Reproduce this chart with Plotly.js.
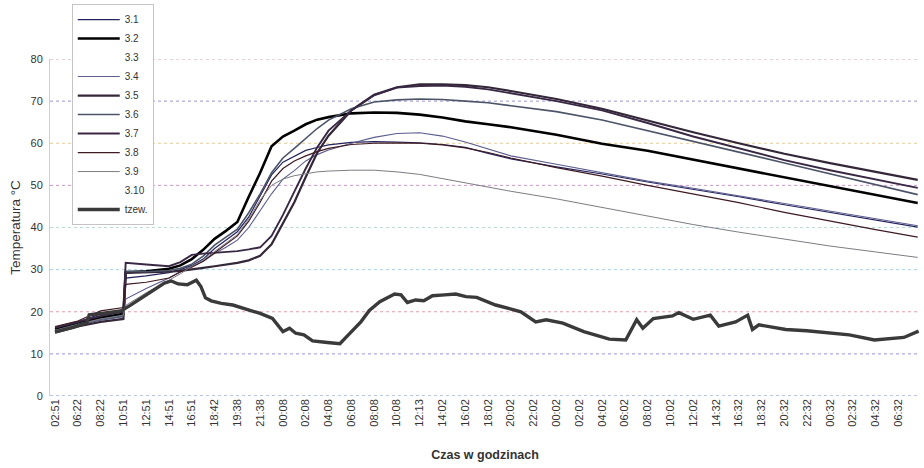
<!DOCTYPE html>
<html>
<head>
<meta charset="utf-8">
<script src="https://cdn.plot.ly/plotly-3.0.1.min.js"></script>
<style>html,body{margin:0;padding:0;background:#fff;}#chart{width:924px;height:468px;}</style>
</head>
<body>
<div id="chart"></div>
<script>
// ---- category tick labels (time of day) ----
const xLabels = ['02:51','06:22','08:22','10:51','12:51','14:51','16:51','18:42','19:38','21:38',
  '00:08','02:08','04:08','06:08','08:08','10:08','12:13','14:02','16:02','18:02','20:02','22:02',
  '00:02','02:02','04:02','06:02','08:02','10:02','12:02','14:32','16:32','18:32','20:32','22:32',
  '00:32','02:32','04:32','06:32'];

// ---- sample positions (in units of tick-label index) for the measurement series ----
const tPos = [0,1,2,3,3.1,4,5,5.5,6,6.5,7,7.5,8,8.5,9,9.5,10,10.5,11,11.5,12,13,14,15,16,17,18,19,20,22,24,26,28,30,32,34,36,37.85];

// ---- series values, °C ----
const s31 = [16.0,17.5,19.5,20.5,28.0,28.5,29.3,30.0,31.0,32.5,35.0,37.0,39.0,42.5,47.5,52.5,55.5,57.0,58.3,59.0,59.6,60.2,60.4,60.3,60.1,59.7,59.0,57.6,56.3,54.4,52.7,50.8,49.1,47.3,45.4,43.6,41.8,40.1];
const s32 = [15.8,17.2,18.6,19.5,29.4,29.6,30.2,31.0,32.5,34.7,37.3,39.2,41.3,47.3,53.0,59.3,61.6,63.0,64.5,65.6,66.2,67.1,67.3,67.2,66.8,66.1,65.2,64.5,63.8,62.0,59.9,58.2,56.1,53.9,51.8,49.7,47.7,45.8];
const s33 = [null];
const s34 = [15.2,16.8,18.0,18.8,23.0,25.5,28.0,29.5,30.8,32.0,33.8,35.3,37.0,40.0,44.0,48.0,51.5,53.5,55.8,57.3,58.4,60.0,61.4,62.3,62.5,61.7,60.3,58.7,57.0,55.0,53.0,51.0,49.3,47.5,45.7,43.8,42.0,40.4];
const s35 = [15.0,16.5,17.6,18.3,29.2,29.3,29.5,29.7,30.0,30.4,30.8,31.2,31.6,32.2,33.3,36.0,41.0,46.0,52.0,57.7,61.8,67.8,71.5,73.3,74.0,74.0,73.8,73.3,72.4,70.5,68.2,65.4,62.6,60.0,57.5,55.3,53.2,51.3];
const s36 = [15.5,17.0,18.2,19.0,29.6,29.5,29.8,30.3,31.3,33.2,35.8,37.8,39.6,43.5,48.0,53.0,56.5,58.8,61.2,63.5,65.5,68.2,69.8,70.3,70.5,70.4,70.0,69.6,68.9,67.5,65.5,63.0,60.5,57.9,55.3,52.7,50.2,47.8];
const s37 = [16.2,17.6,19.0,20.0,31.6,31.2,30.8,31.8,33.5,33.8,34.0,34.2,34.4,34.8,35.3,38.0,43.0,48.5,54.0,59.0,63.0,67.8,71.4,73.2,73.6,73.7,73.4,72.8,71.9,70.0,67.8,64.8,61.6,58.8,56.0,53.6,51.4,49.4];
const s38 = [16.5,17.8,20.2,21.0,26.5,27.0,28.0,29.5,30.6,32.0,34.0,36.0,38.0,41.5,46.0,51.0,54.0,55.8,57.0,58.0,58.8,59.7,60.0,60.1,60.0,59.6,58.9,57.8,56.5,54.2,52.2,50.0,48.0,45.9,43.6,41.5,39.5,37.7];
const s39 = [15.6,16.9,18.3,19.2,21.5,24.5,27.5,29.0,30.8,32.3,34.3,36.3,38.3,42.0,46.5,50.0,51.5,52.3,52.8,53.2,53.4,53.6,53.6,53.2,52.6,51.6,50.6,49.6,48.6,46.8,44.8,42.7,40.7,38.9,37.2,35.6,34.2,32.9];
const s310 = [null];

// outdoor temperature (own, denser sampling)
const tzewPos = [0,0.8,1.4,1.5,2.2,2.9,3.3,3.8,4.3,4.8,5.1,5.4,5.8,6.2,6.4,6.6,6.85,7.3,7.8,8.2,8.7,9.0,9.54,10.0,10.29,10.56,10.92,11.3,11.95,12.5,12.87,13.42,13.79,14.25,14.9,15.18,15.46,15.82,16.18,16.56,17.1,17.58,18.03,18.5,19.33,20.44,21.09,21.55,22.28,23.2,24.32,25.04,25.52,25.79,26.25,27.09,27.37,28.0,28.75,29.12,29.86,30.39,30.6,30.88,32.06,32.98,34.85,35.95,37.24,37.89];
const tzew = [15.2,16.3,17.4,19.3,19.7,20.2,21.5,23.2,25.0,26.8,27.3,26.6,26.4,27.5,26.0,23.3,22.6,22.0,21.6,20.9,20.0,19.6,18.4,15.3,16.1,14.9,14.5,13.1,12.7,12.4,14.5,17.6,20.3,22.4,24.2,24.0,22.2,22.8,22.6,23.8,24.0,24.2,23.6,23.4,21.6,20.0,17.6,18.1,17.3,15.3,13.5,13.3,18.1,16.1,18.4,19.0,19.8,18.2,19.2,16.6,17.6,19.2,15.8,16.9,15.8,15.5,14.5,13.3,13.9,15.4];

const seriesNames = ['3.1','3.2','3.3','3.4','3.5','3.6','3.7','3.8','3.9','3.10'];
const seriesVals = [s31,s32,s33,s34,s35,s36,s37,s38,s39,s310];

const yTicks = [0,10,20,30,40,50,60,70,80];

// ---- styles ----
const lineStyles = [
  {color:'#24245e', width:1.2},
  {color:'#000000', width:2.6},
  {color:'rgba(0,0,0,0)', width:1},
  {color:'#5c5c8e', width:1.1},
  {color:'#342838', width:2.2},
  {color:'#4c5468', width:1.6},
  {color:'#382844', width:1.9},
  {color:'#3e1a22', width:1.2},
  {color:'#7c7c84', width:1.0},
  {color:'rgba(0,0,0,0)', width:1}
];
const gridColors = ['#6f8fd0','#a38fe0','#e0a0a8','#a8d4e6','#b8dcd8','#cc96c4','#e2cc96','#9c94d8','#d8a0b4'];

const traces = seriesNames.map((n,i)=>({
  type:'scatter', mode:'lines', name:n,
  x: seriesVals[i].length === tPos.length ? tPos : [0],
  y: seriesVals[i],
  line: lineStyles[i], connectgaps:false
}));
traces.push({type:'scatter', mode:'lines', name:'tzew.', x:tzewPos, y:tzew,
  line:{color:'#3a3a3a', width:3.4}});

const shapes = yTicks.map((v,i)=>({type:'line', xref:'paper', x0:0, x1:1, yref:'y', y0:v, y1:v,
  layer:'below', line:{color:gridColors[i], width:1, dash:'dot'}}));

const layout = {
  width:924, height:468,
  margin:{l:50, r:4, t:59, b:72},
  paper_bgcolor:'#ffffff', plot_bgcolor:'#ffffff',
  font:{family:'Liberation Sans, Arial, sans-serif', size:10, color:'#333'},
  showlegend:true,
  legend:{x:0.025, y:1.163, xanchor:'left', yanchor:'top', bgcolor:'#ffffff',
    bordercolor:'#c4c4c4', borderwidth:1, font:{size:10, color:'#333'}, tracegroupgap:0,
    itemwidth:42},
  xaxis:{range:[-0.22,37.95], tickmode:'array', tickvals:xLabels.map((_,i)=>i), ticktext:xLabels,
    tickangle:-90, showgrid:false, zeroline:false, showline:false, ticks:'',
    tickfont:{size:11, color:'#333'}, automargin:false,
    title:{text:'<b>Czas w godzinach</b>', standoff:24, font:{size:12.5, color:'#333'}}},
  yaxis:{range:[0,80], tickmode:'array', tickvals:yTicks, showgrid:false, zeroline:false,
    showline:true, linecolor:'#cfcfcf', linewidth:1, ticks:'', ticklabelstandoff:4,
    tickfont:{size:11, color:'#333'}, automargin:false,
    title:{text:'Temperatura °C', standoff:6, font:{size:13.5, color:'#333'}}},
  shapes: shapes
};

Plotly.newPlot('chart', traces, layout, {displayModeBar:false, staticPlot:true});
</script>
</body>
</html>
